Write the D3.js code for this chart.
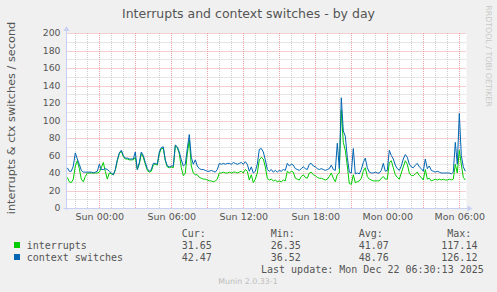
<!DOCTYPE html>
<html>
<head>
<meta charset="utf-8">
<script src="https://cdn.jsdelivr.net/npm/d3@7"></script>
<style>
  html, body { margin: 0; padding: 0; background: #f0f0f0; }
  svg { display: block; }
  text { font-family: "DejaVu Sans", sans-serif; fill: #555; }
  .mono { font-family: "DejaVu Sans Mono", monospace; font-size: 10px; }
</style>
</head>
<body>
<div id="chart"></div>
<script>
// samples every 10 minutes starting Sat 20 Dec 2025 21:20
var sampleStart = new Date(2025, 11, 20, 21, 20);
var sampleStep = 10; // minutes

// context switches / second
var ctxValues = [
  46, 42, 42, 48, 63, 56, 50, 43, 41, 41, 41, 41, 41, 40, 41, 42, 50, 44, 44, 45,
  44, 42, 40, 38, 44, 55, 63, 66, 60, 57, 57, 56, 56, 56, 64, 44, 52, 64, 60, 52,
  45, 42, 44, 51, 51, 50, 64, 69, 70, 55, 48, 47, 48, 48, 72, 70, 64, 55, 48, 50,
  68, 84, 58, 50, 55, 48, 45, 44, 44, 43, 42, 42, 43, 42, 41, 44, 51, 50, 51, 50,
  51, 51, 50, 52, 51, 50, 51, 52, 50, 53, 50, 42, 47, 40, 42, 50, 67, 68, 64, 55,
  44, 42, 44, 41, 43, 41, 43, 42, 44, 43, 51, 48, 50, 49, 45, 44, 43, 45, 47, 45,
  44, 50, 51, 48, 47, 45, 44, 45, 44, 43, 44, 45, 49, 44, 43, 74, 45, 126, 88, 82,
  58, 41, 40, 68, 39, 40, 39, 44, 52, 57, 46, 41, 40, 40, 41, 40, 40, 43, 51, 42,
  43, 66, 60, 56, 49, 45, 43, 48, 56, 61, 58, 50, 47, 46, 49, 51, 47, 45, 42, 56,
  45, 48, 43, 42, 41, 42, 41, 40, 40, 40, 40, 40, 39, 41, 75, 50, 108, 60, 47, 42
];

// interrupts / second
var irqValues = [
  35, 30, 29, 33, 48, 54, 45, 33, 30, 36, 40, 40, 40, 40, 40, 40, 41, 46, 52, 42,
  33, 40, 39, 38, 43, 54, 62, 65, 59, 56, 56, 55, 55, 55, 58, 44, 50, 62, 58, 50,
  43, 41, 42, 49, 50, 49, 62, 68, 68, 54, 47, 46, 47, 46, 71, 69, 62, 46, 37, 40,
  62, 78, 48, 40, 38, 38, 35, 34, 33, 33, 32, 31, 31, 30, 31, 33, 40, 40, 41, 40,
  40, 41, 40, 41, 41, 40, 41, 42, 40, 44, 42, 32, 38, 29, 33, 40, 55, 58, 56, 47,
  34, 32, 33, 31, 32, 30, 31, 30, 32, 31, 42, 40, 42, 41, 34, 33, 32, 36, 38, 35,
  34, 40, 41, 38, 37, 35, 34, 34, 33, 32, 33, 36, 40, 34, 30, 38, 40, 112, 75, 66,
  48, 28, 27, 38, 29, 30, 31, 34, 42, 46, 36, 33, 32, 31, 31, 31, 31, 34, 36, 33,
  33, 52, 54, 46, 38, 35, 33, 40, 47, 54, 50, 40, 37, 37, 39, 41, 37, 35, 32, 44,
  33, 34, 31, 32, 33, 32, 33, 32, 33, 32, 32, 33, 32, 33, 50, 40, 66, 50, 35, 32
];

var yTicks = [0, 20, 40, 60, 80, 100, 120, 140, 160, 180, 200];

var legendNames = ["interrupts", "context switches"];
var legendColors = ["#00cc00", "#0066b3"];
var curValues = ["31.65", "42.47"];
var minValues = ["26.35", "36.52"];
var avgValues = ["41.07", "48.76"];
var maxValues = ["117.14", "126.12"];

var svgWidth = 497;
var svgHeight = 292;

var plot = { left: 66.5, right: 466.5, top: 33, bottom: 208 };

var svg = d3.select("#chart")
  .append("svg")
  .attr("width", svgWidth)
  .attr("height", svgHeight);

svg.append("rect")
  .attr("width", svgWidth)
  .attr("height", svgHeight)
  .attr("fill", "#f0f0f0");

// scales
var x = d3.scaleTime()
  .domain([new Date(2025, 11, 20, 21, 16), new Date(2025, 11, 22, 6, 36)])
  .range([plot.left, plot.right]);

var y = d3.scaleLinear()
  .domain([0, 200])
  .range([plot.bottom, plot.top]);

// canvas
svg.append("rect")
  .attr("x", 66)
  .attr("y", plot.top)
  .attr("width", plot.right - 66)
  .attr("height", plot.bottom - plot.top)
  .attr("fill", "#ffffff");

var snap = function(v) { return Math.round(v) + 0.5; };

// grid
var gridGroup = svg.append("g");
var hours = d3.timeHour.every(1).range(x.domain()[0], x.domain()[1]);

gridGroup.selectAll("line.vminor")
  .data(hours)
  .enter()
  .append("line")
  .attr("x1", d => snap(x(d)))
  .attr("x2", d => snap(x(d)))
  .attr("y1", plot.top)
  .attr("y2", plot.bottom)
  .attr("stroke", d => d.getHours() % 3 === 0 ? "#e8a0a0" : "#cfcfcf")
  .attr("stroke-dasharray", "1,1");

var yMinor = d3.range(10, 201, 10);
gridGroup.selectAll("line.hgrid")
  .data(yMinor)
  .enter()
  .append("line")
  .attr("x1", plot.left)
  .attr("x2", plot.right)
  .attr("y1", d => snap(y(d)))
  .attr("y2", d => snap(y(d)))
  .attr("stroke", d => d % 20 === 0 ? "#e8a0a0" : "#cfcfcf")
  .attr("stroke-dasharray", "1,1");

// series
var times = ctxValues.map((d, i) => d3.timeMinute.offset(sampleStart, i * sampleStep));

var line = d3.line()
  .x((d, i) => x(times[i]))
  .y(d => y(d));

svg.append("path")
  .datum(irqValues)
  .attr("d", line)
  .attr("fill", "none")
  .attr("stroke", legendColors[0])
  .attr("stroke-width", 1);

svg.append("path")
  .datum(ctxValues)
  .attr("d", line)
  .attr("fill", "none")
  .attr("stroke", legendColors[1])
  .attr("stroke-width", 1);

// axes lines and arrows
var axisColor = "#c8d0f4";
svg.append("line")
  .attr("x1", plot.left).attr("x2", plot.left)
  .attr("y1", plot.bottom + 2).attr("y2", 29)
  .attr("stroke", axisColor);
svg.append("path")
  .attr("d", `M${plot.left - 3},31L${plot.left + 3},31L${plot.left},26Z`)
  .attr("fill", axisColor);
svg.append("line")
  .attr("x1", plot.left - 3).attr("x2", plot.right + 3)
  .attr("y1", plot.bottom + 0.5).attr("y2", plot.bottom + 0.5)
  .attr("stroke", axisColor);
svg.append("path")
  .attr("d", `M${plot.right + 1},${plot.bottom - 2.5}L${plot.right + 1},${plot.bottom + 3.5}L${plot.right + 6},${plot.bottom + 0.5}Z`)
  .attr("fill", axisColor);

// y axis labels
var yAxis = d3.axisLeft(y)
  .tickValues(yTicks)
  .tickSize(0)
  .tickPadding(6);

var yAxisGroup = svg.append("g")
  .attr("transform", `translate(${plot.left}, 0)`)
  .call(yAxis);
yAxisGroup.select(".domain").remove();
yAxisGroup.selectAll("text")
  .attr("font-family", "DejaVu Sans")
  .attr("font-size", "9.3px")
  .attr("fill", "#555");

// x axis labels
var xAxis = d3.axisBottom(x)
  .ticks(d3.timeHour.every(6))
  .tickFormat(d3.timeFormat("%a %H:%M"))
  .tickSize(0)
  .tickPadding(5);

var xAxisGroup = svg.append("g")
  .attr("transform", `translate(0, ${plot.bottom})`)
  .call(xAxis);
xAxisGroup.select(".domain").remove();
xAxisGroup.selectAll("text")
  .attr("font-family", "DejaVu Sans")
  .attr("font-size", "9.5px")
  .attr("fill", "#555");

// title
svg.append("text")
  .attr("x", 248.5)
  .attr("y", 18.3)
  .attr("text-anchor", "middle")
  .attr("font-size", "12.5px")
  .attr("fill", "#555")
  .text("Interrupts and context switches - by day");

// vertical axis title
svg.append("text")
  .attr("transform", "translate(14.5, 118) rotate(-90)")
  .attr("text-anchor", "middle")
  .attr("font-size", "11.3px")
  .attr("fill", "#555")
  .text("interrupts & ctx switches / second");

// rrdtool watermark
svg.append("text")
  .attr("transform", "translate(486, 56) rotate(90)")
  .attr("text-anchor", "middle")
  .attr("font-size", "7.9px")
  .attr("fill", "#c8c8c8")
  .attr("style", "fill:#c8c8c8")
  .text("RRDTOOL / TOBI OETIKER");

// legend
var legend = svg.append("g").attr("class", "mono");

var headers = [["Cur:", 181.7], ["Min:", 270.7], ["Avg:", 358.7], ["Max:", 447.3]];
legend.selectAll("text.head")
  .data(headers)
  .enter()
  .append("text")
  .attr("class", "mono")
  .attr("x", d => d[1])
  .attr("y", 236.7)
  .text(d => d[0]);

var rowY = [249, 261];
legendNames.forEach(function(name, i) {
  legend.append("rect")
    .attr("x", 14)
    .attr("y", rowY[i] - 7)
    .attr("width", 6)
    .attr("height", 6)
    .attr("fill", legendColors[i]);
  legend.append("text").attr("class", "mono").attr("x", 26.7).attr("y", rowY[i]).text(name);
  legend.append("text").attr("class", "mono").attr("x", 181.7).attr("y", rowY[i]).text(curValues[i]);
  legend.append("text").attr("class", "mono").attr("x", 270.7).attr("y", rowY[i]).text(minValues[i]);
  legend.append("text").attr("class", "mono").attr("x", 358.7).attr("y", rowY[i]).text(avgValues[i]);
  legend.append("text").attr("class", "mono").attr("x", 441.3).attr("y", rowY[i]).text(maxValues[i]);
});

legend.append("text")
  .attr("class", "mono")
  .attr("x", 261)
  .attr("y", 273.3)
  .text("Last update: Mon Dec 22 06:30:13 2025");

svg.append("text")
  .attr("x", 248)
  .attr("y", 283.5)
  .attr("text-anchor", "middle")
  .attr("font-size", "7.9px")
  .attr("style", "fill:#bdbdbd")
  .text("Munin 2.0.33-1");
</script>
</body>
</html>
